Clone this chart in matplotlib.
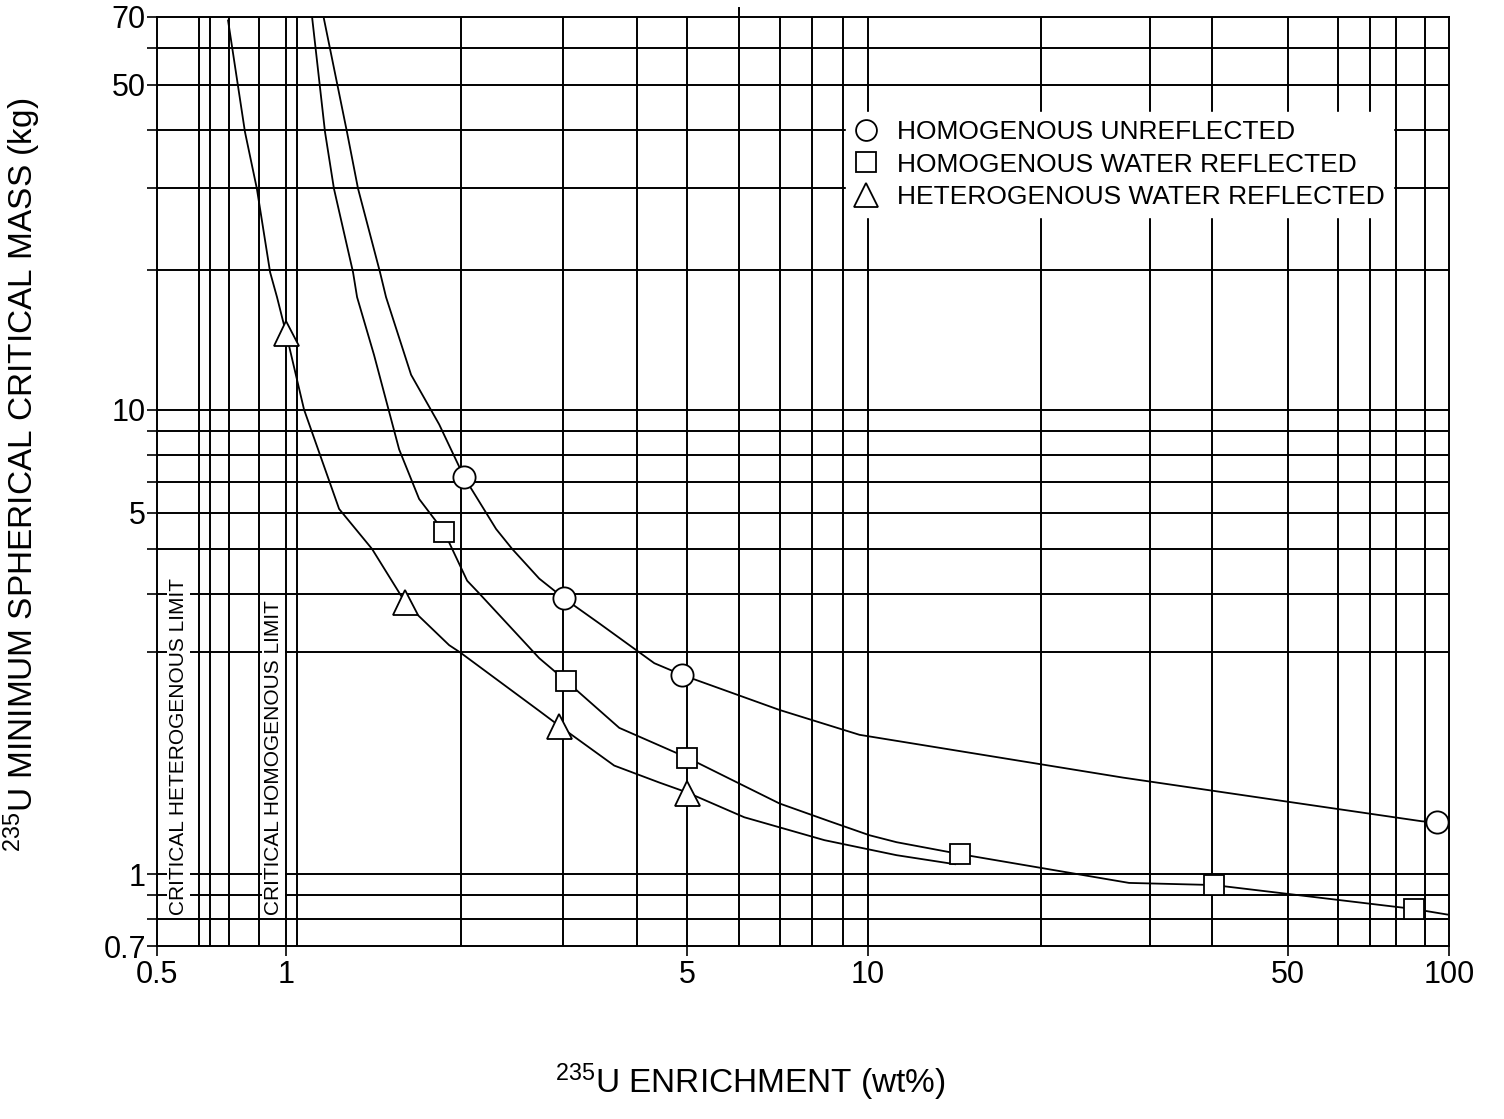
import matplotlib
matplotlib.use('Agg')
import matplotlib.pyplot as plt
from matplotlib.lines import Line2D
from matplotlib.ticker import NullLocator

plt.rcParams['font.family'] = ['Liberation Sans', 'DejaVu Sans']
plt.rcParams['mathtext.fontset'] = 'custom'
plt.rcParams['mathtext.rm'] = 'Liberation Sans'
plt.rcParams['mathtext.it'] = 'Liberation Sans:italic'
plt.rcParams['mathtext.bf'] = 'Liberation Sans:bold'

# ---------------- data ----------------
# Homogenous unreflected (circles)
hu_x = [1.162, 1.273, 1.330, 1.451, 1.486, 1.641, 1.834, 2.025, 2.298, 2.449, 2.726,
        3.009, 3.458, 4.299, 4.804, 7.056, 9.69, 27.5, 52.45, 89.8, 95.3]
hu_y = [69.4, 39.6, 29.9, 19.75, 17.46, 11.88, 9.29, 7.15, 5.53, 5.01, 4.325,
        3.92, 3.464, 2.844, 2.682, 2.256, 1.994, 1.613, 1.433, 1.299, 1.292]
hu_mx = [2.025, 3.009, 4.804, 95.3]
hu_my = [7.15, 3.92, 2.682, 1.292]

# Homogenous water reflected (squares)
hwr_x = [1.109, 1.167, 1.209, 1.304, 1.325, 1.417, 1.565, 1.694, 1.871, 1.931, 2.049,
         2.149, 2.726, 3.033, 3.742, 4.9, 6.02, 7.056, 8.603, 10.08, 11.22, 14.42,
         28.17, 39.4, 87.0, 100.0]
hwr_y = [69.8, 39.6, 29.9, 19.75, 17.46, 13.11, 8.21, 6.42, 5.45, 5.01, 4.28,
         4.02, 2.915, 2.603, 2.064, 1.78, 1.566, 1.419, 1.299, 1.212, 1.171, 1.104,
         0.957, 0.947, 0.841, 0.817]
hwr_mx = [1.871, 3.033, 4.9, 14.42, 39.4, 87.0]
hwr_my = [5.45, 2.603, 1.78, 1.104, 0.947, 0.841]

# Heterogenous water reflected (triangles)
het_x = [0.795, 0.85, 0.891, 0.939, 0.965, 1.0, 1.074, 1.234, 1.406, 1.6, 1.674,
         1.908, 1.993, 2.726, 2.95, 3.668, 4.385, 4.9, 6.14, 8.43, 11.22, 14.14]
het_y = [68.8, 39.6, 29.9, 19.75, 17.46, 14.62, 10.0, 6.11, 5.01, 3.86, 3.64,
         3.11, 3.0, 2.245, 2.085, 1.712, 1.574, 1.498, 1.325, 1.183, 1.098, 1.05]
het_mx = [1.0, 1.6, 2.95, 4.9]
het_my = [14.62, 3.86, 2.085, 1.498]

legend_labels = ['HOMOGENOUS UNREFLECTED', 'HOMOGENOUS WATER REFLECTED',
                 'HETEROGENOUS WATER REFLECTED']

# grid lines as drawn on the chart
x_grid = [0.708, 0.740, 0.798, 0.899, 1.0, 1.044, 2.0, 3.0, 4.02, 4.9, 6.02, 7.06,
          8.04, 9.09, 10.0, 19.9, 30.6, 39.2, 52.9, 64.5, 73.0, 81.0, 90.9]
y_grid = [0.8, 0.9, 1.0, 3.0, 4.0, 5.0, 6.0, 7.0, 8.0, 9.0, 10.0, 20.0, 30.0,
          40.0, 50.0, 60.0]

# tick labels as printed on the chart
x_tick_pos = [0.6, 1.0, 4.9, 10.0, 52.9, 100.0]
x_tick_lab = ['0.5', '1', '5', '10', '50', '100']
y_tick_pos = [0.7, 0.8, 0.9, 1.0, 3.0, 4.0, 5.0, 6.0, 7.0, 8.0, 9.0, 10.0, 20.0,
              30.0, 40.0, 50.0, 60.0, 70.0]
y_tick_lab = ['0.7', '', '', '1', '', '', '', '5', '', '', '', '10', '', '', '', '50', '', '70']

limit_texts = ['CRITICAL HETEROGENOUS LIMIT', 'CRITICAL HOMOGENOUS LIMIT']
limit_x = [0.654, 0.953]

# ---------------- figure ----------------
W, H = 1504, 1119
fig = plt.figure(figsize=(W / 100, H / 100), dpi=100)
ax = fig.add_axes([157 / W, 1 - 946 / H, 1292 / W, 929 / H])
ax.set_xscale('log')
ax.set_yscale('log')
ax.set_xlim(0.6, 100)
ax.set_ylim(0.7, 70)

glw = 1.4
for xv in x_grid:
    if abs(xv - 6.02) < 1e-6:
        ax.axvline(xv, 0, 1 + 9 / 929, color='black', lw=glw, zorder=1, clip_on=False)
    else:
        ax.axvline(xv, color='black', lw=glw, zorder=1)
for yv in y_grid:
    ax.axhline(yv, color='black', lw=glw, zorder=1)

for s in ax.spines.values():
    s.set_linewidth(glw)
    s.set_color('black')

clw = 1.3
ax.plot(hu_x, hu_y, color='black', lw=clw, zorder=2)
ax.plot(hwr_x, hwr_y, color='black', lw=clw, zorder=2)
ax.plot(het_x, het_y, color='black', lw=clw, zorder=2)

mk = dict(ls='none', mfc='white', mec='black', mew=1.3)
ax.plot(hu_mx, hu_my, marker='o', ms=16, zorder=3, **mk)
ax.plot(hwr_mx, hwr_my, marker='s', ms=14, zorder=3, **mk)
ax.plot(het_mx, het_my, marker='^', ms=18, zorder=3, **mk)

ax.set_xticks(x_tick_pos)
ax.set_xticklabels(x_tick_lab)
ax.xaxis.set_minor_locator(NullLocator())
ax.set_yticks(y_tick_pos)
ax.set_yticklabels(y_tick_lab)
ax.yaxis.set_minor_locator(NullLocator())
ax.tick_params(axis='x', direction='out', length=7, width=1.2, labelsize=22, pad=3,
               top=False)
ax.tick_params(axis='y', direction='out', length=7, width=1.2, labelsize=22, pad=1,
               right=False)

for txt, xv in zip(limit_texts, limit_x):
    ax.text(xv, 0.818, txt, rotation=90, ha='center', va='bottom', fontsize=15,
            bbox=dict(facecolor='white', edgecolor='none', pad=1.5), zorder=4)

handles = [
    Line2D([], [], marker='o', ms=15, **mk),
    Line2D([], [], marker='s', ms=14, **mk),
    Line2D([], [], marker='^', ms=17, **mk),
]
leg = ax.legend(handles, legend_labels, loc='upper left',
                bbox_to_anchor=(846 / W, 1 - 112 / H), bbox_transform=fig.transFigure,
                fontsize=19, frameon=True, fancybox=False, framealpha=1,
                facecolor='white', edgecolor='white', borderpad=0.3,
                handlelength=0.9, handletextpad=0.75, labelspacing=0.33,
                borderaxespad=0)
leg.set_zorder(5)

fig.text(750 / W, 1 - 1082 / H, r'$^{235}$U ENRICHMENT (wt%)', ha='center',
         va='center', fontsize=24)
fig.text(22 / W, 1 - 475 / H, r'$^{235}$U MINIMUM SPHERICAL CRITICAL MASS (kg)',
         ha='center', va='center', rotation=90, fontsize=24)

fig.savefig('out.png', dpi=100, facecolor='white')
